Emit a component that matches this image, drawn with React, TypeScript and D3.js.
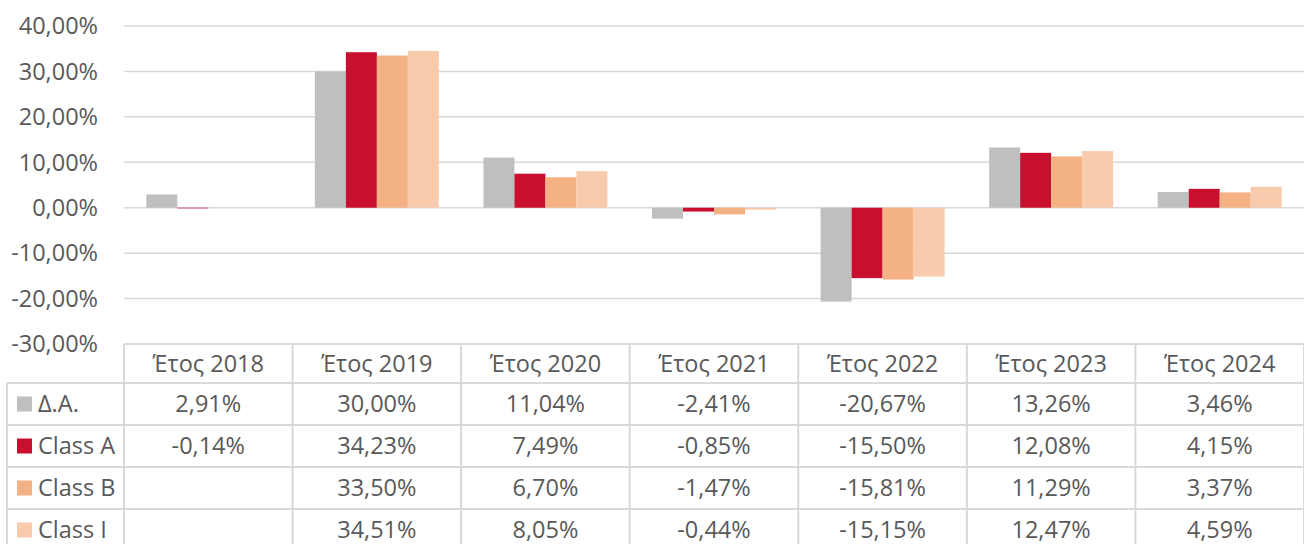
import React from "react";
import * as d3 from "d3";

const years = ["Έτος 2018", "Έτος 2019", "Έτος 2020", "Έτος 2021", "Έτος 2022", "Έτος 2023", "Έτος 2024"];
const seriesNames = ["Δ.Α.", "Class A", "Class B", "Class I"];
const da = [2.91, 30.0, 11.04, -2.41, -20.67, 13.26, 3.46];
const classA = [-0.14, 34.23, 7.49, -0.85, -15.5, 12.08, 4.15];
const classB = [null, 33.5, 6.7, -1.47, -15.81, 11.29, 3.37];
const classI = [null, 34.51, 8.05, -0.44, -15.15, 12.47, 4.59];
const yTicks = [40, 30, 20, 10, 0, -10, -20, -30];
const colors = ["#BFBFBF", "#C8102E", "#F4B183", "#F8CBAD"];

const W = 1304;
const H = 544;
const left = 124;
const right = 1304;
const top = 26;
const bottom = 344;
const headerH = 39;
const rowH = 42;
const legendLeft = 7;
const grid = "#D9D9D9";
const textColor = "#595959";
const font = "'Open Sans', sans-serif";
const fs = 23.5;

const fmt = (v: number) => v.toFixed(2).replace(".", ",") + "%";

export default function App() {
  const allSeries = [da, classA, classB, classI];
  const x = d3.scaleBand().domain(years).range([left, right]).paddingInner(0).paddingOuter(0);
  const inner = d3
    .scaleBand()
    .domain(seriesNames)
    .range([0, x.bandwidth()])
    .paddingOuter(0.72)
    .paddingInner(0);
  const y = d3.scaleLinear().domain([-30, 40]).range([bottom, top]);

  const colEdges = years.map((yr) => x(yr) as number).concat([right]);
  const tableTop = bottom;
  const rowsTop = tableTop + headerH;

  return (
    <svg width={W} height={H} style={{ position: "absolute", left: 0, top: 0 }} fontFamily={font}>
      {/* gridlines */}
      {yTicks.map((t) => (
        <line key={t} x1={left} x2={right} y1={y(t)} y2={y(t)} stroke={grid} strokeWidth={1.5} />
      ))}
      {yTicks.map((t) => (
        <text key={"l" + t} x={98} y={y(t)} dy="0.35em" textAnchor="end" fontSize={fs} fill={textColor}>
          {fmt(t)}
        </text>
      ))}

      {/* bars */}
      {allSeries.map((s, si) =>
        s.map((v, i) =>
          v == null ? null : (
            <rect
              key={si + "-" + i}
              x={(x(years[i]) as number) + (inner(seriesNames[si]) as number)}
              y={y(Math.max(0, v))}
              width={inner.bandwidth()}
              height={Math.abs(y(v) - y(0))}
              fill={colors[si]}
            />
          )
        )
      )}

      {/* data table */}
      <g stroke={grid} strokeWidth={2}>
        <line x1={left} x2={right} y1={tableTop} y2={tableTop} />
        {seriesNames.map((n, i) => (
          <line key={n} x1={legendLeft} x2={right} y1={rowsTop + i * rowH} y2={rowsTop + i * rowH} />
        ))}
        <line x1={legendLeft} x2={legendLeft} y1={rowsTop} y2={H} />
        {colEdges.map((cx, i) => (
          <line key={i} x1={cx} x2={cx} y1={tableTop} y2={H} />
        ))}
      </g>
      {years.map((yr) => (
        <text
          key={yr}
          x={(x(yr) as number) + x.bandwidth() / 2}
          y={tableTop + headerH / 2}
          dy="0.35em"
          textAnchor="middle"
          fontSize={fs}
          fill={textColor}
        >
          {yr}
        </text>
      ))}
      {seriesNames.map((n, si) => (
        <g key={n}>
          <rect x={17} y={rowsTop + si * rowH + rowH / 2 - 7.5} width={15} height={15} fill={colors[si]} />
          <text x={38} y={rowsTop + si * rowH + rowH / 2} dy="0.35em" fontSize={fs} fill={textColor}>
            {n}
          </text>
          {allSeries[si].map((v, i) =>
            v == null ? null : (
              <text
                key={i}
                x={(x(years[i]) as number) + x.bandwidth() / 2}
                y={rowsTop + si * rowH + rowH / 2}
                dy="0.35em"
                textAnchor="middle"
                fontSize={fs}
                fill={textColor}
              >
                {fmt(v)}
              </text>
            )
          )}
        </g>
      ))}
    </svg>
  );
}
